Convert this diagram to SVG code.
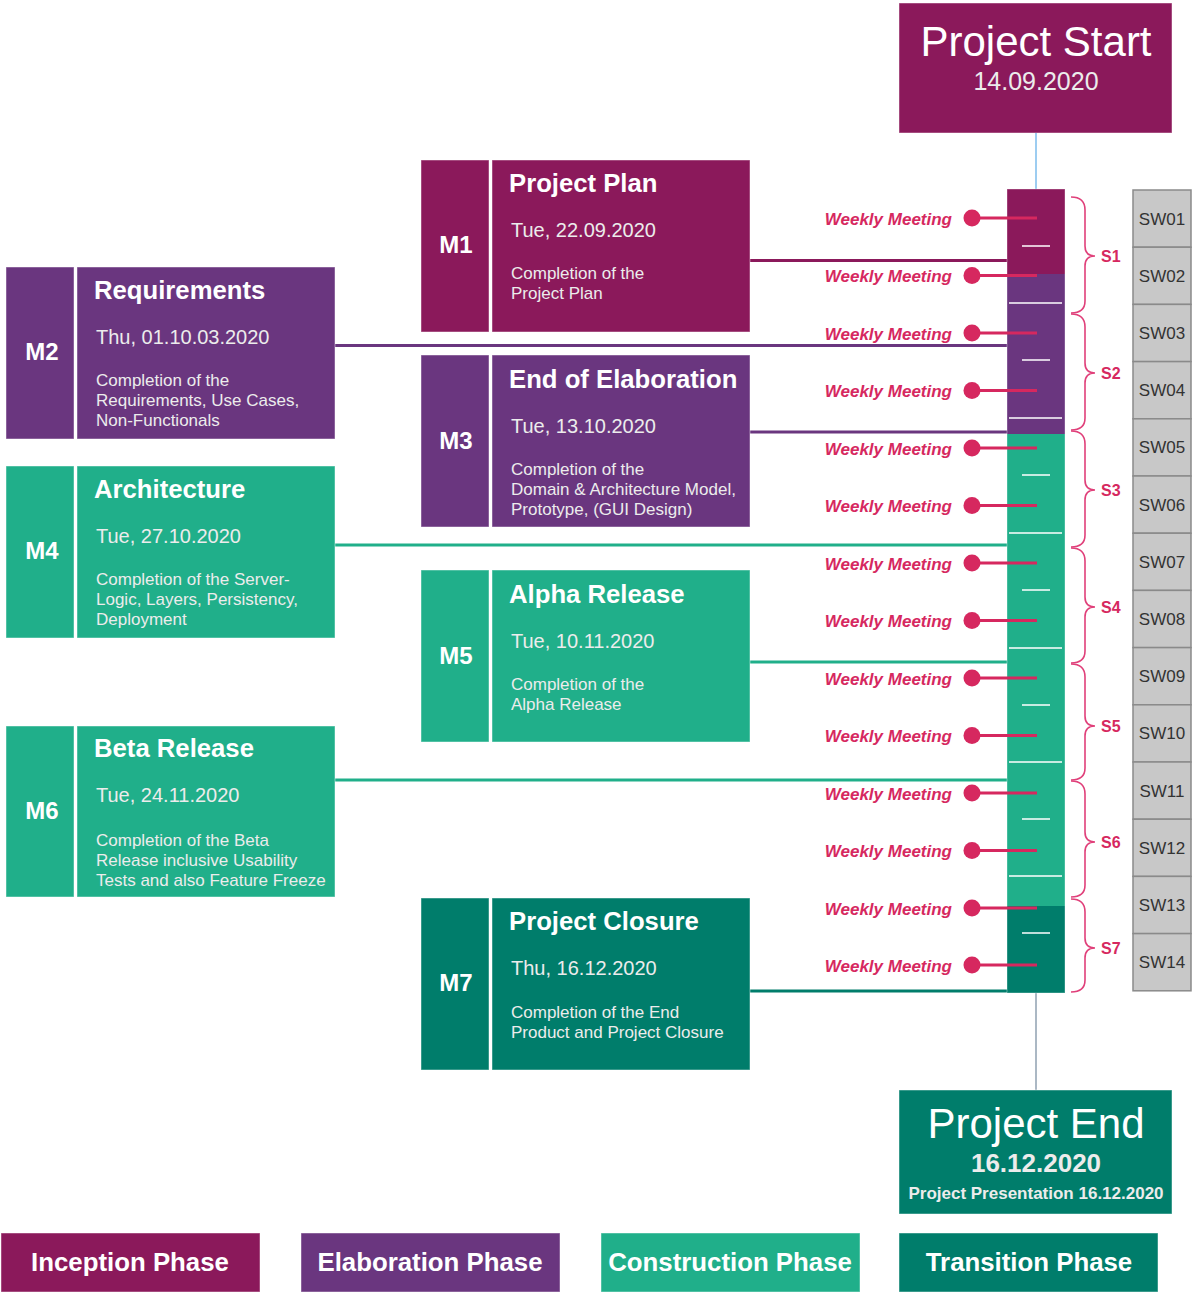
<svg xmlns="http://www.w3.org/2000/svg" width="1192" height="1293" viewBox="0 0 1192 1293">
  <style>
    text { font-family: "Liberation Sans", Arial, sans-serif; }
    .inc { fill: #8b195b; }
    .ela { fill: #6a367f; }
    .con { fill: #20af8a; }
    .tra { fill: #007d6b; }
    .cell { stroke: #ffffff; stroke-opacity: 0.45; stroke-width: 1; }
    .mlabel { font-size: 24px; font-weight: bold; fill: #ffffff; text-anchor: middle; }
    .mtitle { font-size: 25.7px; font-weight: bold; fill: #ffffff; }
    .mdate { font-size: 20px; fill: #ececec; }
    .mdesc { font-size: 17px; fill: #ececec; }
    .meet { font-size: 17px; font-weight: bold; font-style: italic; fill: #d6285f; text-anchor: end; }
    .meetline { stroke: #d6285f; stroke-width: 3; }
    .dot { fill: #d6285f; }
    .brace { fill: none; stroke: #e0407a; stroke-width: 1.6; }
    .slabel { font-size: 16px; font-weight: bold; fill: #d6285f; }
    .sw { fill: #c8c8c8; stroke: #8a8a8a; stroke-width: 1.5; }
    .swtext { font-size: 17px; fill: #333333; text-anchor: middle; }
    .tick { stroke: #ffffff; stroke-width: 1.5; }
    .legend { font-size: 25.8px; font-weight: bold; fill: #ffffff; text-anchor: middle; }
  </style>

  <!-- Project start -->
  <g id="project-start">
    <rect class="inc cell" x="899" y="3" width="273" height="130"/>
    <text x="1036" y="56" font-size="42" fill="#ffffff" text-anchor="middle">Project Start</text>
    <text x="1036" y="90" font-size="25" fill="#ececec" text-anchor="middle">14.09.2020</text>
  </g>

  <!-- Connectors: milestone links and start/end stems -->
  <g id="connectors" fill="none">
    <line x1="1036" y1="133" x2="1036" y2="189" stroke="#7dbcec" stroke-width="1.5"/>
    <line x1="1036" y1="993" x2="1036" y2="1090" stroke="#8fa0b0" stroke-width="1.5"/>
    <line x1="750" y1="260.5" x2="1007" y2="260.5" stroke="#8b195b" stroke-width="3"/>
    <line x1="335" y1="345.5" x2="1007" y2="345.5" stroke="#6a367f" stroke-width="3"/>
    <line x1="750" y1="432" x2="1007" y2="432" stroke="#6a367f" stroke-width="3"/>
    <line x1="335" y1="545" x2="1007" y2="545" stroke="#20af8a" stroke-width="3"/>
    <line x1="750" y1="662" x2="1007" y2="662" stroke="#20af8a" stroke-width="3"/>
    <line x1="335" y1="780" x2="1007" y2="780" stroke="#20af8a" stroke-width="3"/>
    <line x1="750" y1="991" x2="1007" y2="991" stroke="#007d6b" stroke-width="3"/>
  </g>

  <!-- Timeline bar with phase sections and week ticks -->
  <g id="timeline">
    <rect class="inc" x="1007" y="189" width="58" height="85"/>
    <rect class="ela" x="1007" y="274" width="58" height="160"/>
    <rect class="con" x="1007" y="434" width="58" height="472"/>
    <rect class="tra" x="1007" y="906" width="58" height="87"/>
    <rect x="1007" y="189" width="58" height="804" fill="none" stroke="#ffffff" stroke-opacity="0.35" stroke-width="1"/>
    <line class="tick" x1="1022" y1="246" x2="1050" y2="246"/>
    <line class="tick" x1="1009" y1="303" x2="1062" y2="303"/>
    <line class="tick" x1="1022" y1="360" x2="1050" y2="360"/>
    <line class="tick" x1="1009" y1="418" x2="1062" y2="418"/>
    <line class="tick" x1="1022" y1="475" x2="1050" y2="475"/>
    <line class="tick" x1="1009" y1="533" x2="1062" y2="533"/>
    <line class="tick" x1="1022" y1="590" x2="1050" y2="590"/>
    <line class="tick" x1="1009" y1="648" x2="1062" y2="648"/>
    <line class="tick" x1="1022" y1="705" x2="1050" y2="705"/>
    <line class="tick" x1="1009" y1="762" x2="1062" y2="762"/>
    <line class="tick" x1="1022" y1="819" x2="1050" y2="819"/>
    <line class="tick" x1="1009" y1="876" x2="1062" y2="876"/>
    <line class="tick" x1="1022" y1="933" x2="1050" y2="933"/>
  </g>

  <!-- Weekly meetings -->
  <g id="meetings">
    <g><line class="meetline" x1="972" y1="218" x2="1037" y2="218"/><circle class="dot" cx="972" cy="218" r="8.5"/><text class="meet" x="952" y="224.5">Weekly Meeting</text></g>
    <g><line class="meetline" x1="972" y1="275.5" x2="1037" y2="275.5"/><circle class="dot" cx="972" cy="275.5" r="8.5"/><text class="meet" x="952" y="282">Weekly Meeting</text></g>
    <g><line class="meetline" x1="972" y1="333" x2="1037" y2="333"/><circle class="dot" cx="972" cy="333" r="8.5"/><text class="meet" x="952" y="339.5">Weekly Meeting</text></g>
    <g><line class="meetline" x1="972" y1="390.5" x2="1037" y2="390.5"/><circle class="dot" cx="972" cy="390.5" r="8.5"/><text class="meet" x="952" y="397">Weekly Meeting</text></g>
    <g><line class="meetline" x1="972" y1="448" x2="1037" y2="448"/><circle class="dot" cx="972" cy="448" r="8.5"/><text class="meet" x="952" y="454.5">Weekly Meeting</text></g>
    <g><line class="meetline" x1="972" y1="505.5" x2="1037" y2="505.5"/><circle class="dot" cx="972" cy="505.5" r="8.5"/><text class="meet" x="952" y="512">Weekly Meeting</text></g>
    <g><line class="meetline" x1="972" y1="563" x2="1037" y2="563"/><circle class="dot" cx="972" cy="563" r="8.5"/><text class="meet" x="952" y="569.5">Weekly Meeting</text></g>
    <g><line class="meetline" x1="972" y1="620.5" x2="1037" y2="620.5"/><circle class="dot" cx="972" cy="620.5" r="8.5"/><text class="meet" x="952" y="627">Weekly Meeting</text></g>
    <g><line class="meetline" x1="972" y1="678" x2="1037" y2="678"/><circle class="dot" cx="972" cy="678" r="8.5"/><text class="meet" x="952" y="684.5">Weekly Meeting</text></g>
    <g><line class="meetline" x1="972" y1="735.5" x2="1037" y2="735.5"/><circle class="dot" cx="972" cy="735.5" r="8.5"/><text class="meet" x="952" y="742">Weekly Meeting</text></g>
    <g><line class="meetline" x1="972" y1="793" x2="1037" y2="793"/><circle class="dot" cx="972" cy="793" r="8.5"/><text class="meet" x="952" y="799.5">Weekly Meeting</text></g>
    <g><line class="meetline" x1="972" y1="850.5" x2="1037" y2="850.5"/><circle class="dot" cx="972" cy="850.5" r="8.5"/><text class="meet" x="952" y="857">Weekly Meeting</text></g>
    <g><line class="meetline" x1="972" y1="908" x2="1037" y2="908"/><circle class="dot" cx="972" cy="908" r="8.5"/><text class="meet" x="952" y="914.5">Weekly Meeting</text></g>
    <g><line class="meetline" x1="972" y1="965" x2="1037" y2="965"/><circle class="dot" cx="972" cy="965" r="8.5"/><text class="meet" x="952" y="971.5">Weekly Meeting</text></g>
  </g>

  <!-- Sprint braces -->
  <g id="sprints">
    <path class="brace" d="M1071,197 Q1085,197 1085,210 L1085,246 Q1085,256 1095,256 Q1085,256 1085,266 L1085,301 Q1085,313 1071,313"/>
    <text class="slabel" x="1101" y="262">S1</text>
    <path class="brace" d="M1071,314 Q1085,314 1085,327 L1085,363 Q1085,373 1095,373 Q1085,373 1085,383 L1085,418 Q1085,430 1071,430"/>
    <text class="slabel" x="1101" y="379">S2</text>
    <path class="brace" d="M1071,431 Q1085,431 1085,444 L1085,480 Q1085,490 1095,490 Q1085,490 1085,500 L1085,535 Q1085,547 1071,547"/>
    <text class="slabel" x="1101" y="496">S3</text>
    <path class="brace" d="M1071,548 Q1085,548 1085,561 L1085,597 Q1085,607 1095,607 Q1085,607 1085,617 L1085,651 Q1085,663 1071,663"/>
    <text class="slabel" x="1101" y="613">S4</text>
    <path class="brace" d="M1071,664 Q1085,664 1085,677 L1085,716 Q1085,726 1095,726 Q1085,726 1085,736 L1085,768 Q1085,780 1071,780"/>
    <text class="slabel" x="1101" y="732">S5</text>
    <path class="brace" d="M1071,781 Q1085,781 1085,794 L1085,832 Q1085,842 1095,842 Q1085,842 1085,852 L1085,885 Q1085,897 1071,897"/>
    <text class="slabel" x="1101" y="848">S6</text>
    <path class="brace" d="M1071,899 Q1085,899 1085,912 L1085,938 Q1085,948 1095,948 Q1085,948 1085,958 L1085,980 Q1085,992 1071,992"/>
    <text class="slabel" x="1101" y="954">S7</text>
  </g>

  <!-- Study weeks -->
  <g id="study-weeks">
    <rect class="sw" x="1133" y="190" width="58" height="57.2"/><text class="swtext" x="1162" y="224.5">SW01</text>
    <rect class="sw" x="1133" y="247.2" width="58" height="57.2"/><text class="swtext" x="1162" y="281.7">SW02</text>
    <rect class="sw" x="1133" y="304.4" width="58" height="57.2"/><text class="swtext" x="1162" y="338.9">SW03</text>
    <rect class="sw" x="1133" y="361.6" width="58" height="57.2"/><text class="swtext" x="1162" y="396.1">SW04</text>
    <rect class="sw" x="1133" y="418.8" width="58" height="57.2"/><text class="swtext" x="1162" y="453.3">SW05</text>
    <rect class="sw" x="1133" y="476" width="58" height="57.2"/><text class="swtext" x="1162" y="510.5">SW06</text>
    <rect class="sw" x="1133" y="533.2" width="58" height="57.2"/><text class="swtext" x="1162" y="567.7">SW07</text>
    <rect class="sw" x="1133" y="590.4" width="58" height="57.2"/><text class="swtext" x="1162" y="624.9">SW08</text>
    <rect class="sw" x="1133" y="647.6" width="58" height="57.2"/><text class="swtext" x="1162" y="682.1">SW09</text>
    <rect class="sw" x="1133" y="704.8" width="58" height="57.2"/><text class="swtext" x="1162" y="739.3">SW10</text>
    <rect class="sw" x="1133" y="762" width="58" height="57.2"/><text class="swtext" x="1162" y="796.5">SW11</text>
    <rect class="sw" x="1133" y="819.2" width="58" height="57.2"/><text class="swtext" x="1162" y="853.7">SW12</text>
    <rect class="sw" x="1133" y="876.4" width="58" height="57.2"/><text class="swtext" x="1162" y="910.9">SW13</text>
    <rect class="sw" x="1133" y="933.6" width="58" height="57.2"/><text class="swtext" x="1162" y="968.1">SW14</text>
  </g>

  <!-- Milestones -->
  <g id="m1">
    <rect class="inc cell" x="421" y="160" width="68" height="172"/>
    <rect class="inc cell" x="492" y="160" width="258" height="172"/>
    <text class="mlabel" x="456" y="253">M1</text>
    <text class="mtitle" x="509" y="192">Project Plan</text>
    <text class="mdate" x="511" y="237">Tue, 22.09.2020</text>
    <text class="mdesc" x="511" y="279">Completion of the</text>
    <text class="mdesc" x="511" y="299">Project Plan</text>
  </g>
  <g id="m2">
    <rect class="ela cell" x="6" y="267" width="68" height="172"/>
    <rect class="ela cell" x="77" y="267" width="258" height="172"/>
    <text class="mlabel" x="42" y="360">M2</text>
    <text class="mtitle" x="94" y="299">Requirements</text>
    <text class="mdate" x="96" y="344">Thu, 01.10.03.2020</text>
    <text class="mdesc" x="96" y="386">Completion of the</text>
    <text class="mdesc" x="96" y="406">Requirements, Use Cases,</text>
    <text class="mdesc" x="96" y="426">Non-Functionals</text>
  </g>
  <g id="m3">
    <rect class="ela cell" x="421" y="355" width="68" height="172"/>
    <rect class="ela cell" x="492" y="355" width="258" height="172"/>
    <text class="mlabel" x="456" y="449">M3</text>
    <text class="mtitle" x="509" y="388">End of Elaboration</text>
    <text class="mdate" x="511" y="433">Tue, 13.10.2020</text>
    <text class="mdesc" x="511" y="475">Completion of the</text>
    <text class="mdesc" x="511" y="495">Domain &amp; Architecture Model,</text>
    <text class="mdesc" x="511" y="515">Prototype, (GUI Design)</text>
  </g>
  <g id="m4">
    <rect class="con cell" x="6" y="466" width="68" height="172"/>
    <rect class="con cell" x="77" y="466" width="258" height="172"/>
    <text class="mlabel" x="42" y="559">M4</text>
    <text class="mtitle" x="94" y="498">Architecture</text>
    <text class="mdate" x="96" y="543">Tue, 27.10.2020</text>
    <text class="mdesc" x="96" y="585">Completion of the Server-</text>
    <text class="mdesc" x="96" y="605">Logic, Layers, Persistency,</text>
    <text class="mdesc" x="96" y="625">Deployment</text>
  </g>
  <g id="m5">
    <rect class="con cell" x="421" y="570" width="68" height="172"/>
    <rect class="con cell" x="492" y="570" width="258" height="172"/>
    <text class="mlabel" x="456" y="664">M5</text>
    <text class="mtitle" x="509" y="603">Alpha Release</text>
    <text class="mdate" x="511" y="648">Tue, 10.11.2020</text>
    <text class="mdesc" x="511" y="690">Completion of the</text>
    <text class="mdesc" x="511" y="710">Alpha Release</text>
  </g>
  <g id="m6">
    <rect class="con cell" x="6" y="726" width="68" height="171"/>
    <rect class="con cell" x="77" y="726" width="258" height="171"/>
    <text class="mlabel" x="42" y="819">M6</text>
    <text class="mtitle" x="94" y="757">Beta Release</text>
    <text class="mdate" x="96" y="802">Tue, 24.11.2020</text>
    <text class="mdesc" x="96" y="846">Completion of the Beta</text>
    <text class="mdesc" x="96" y="866">Release inclusive Usability</text>
    <text class="mdesc" x="96" y="886">Tests and also Feature Freeze</text>
  </g>
  <g id="m7">
    <rect class="tra cell" x="421" y="898" width="68" height="172"/>
    <rect class="tra cell" x="492" y="898" width="258" height="172"/>
    <text class="mlabel" x="456" y="991">M7</text>
    <text class="mtitle" x="509" y="930">Project Closure</text>
    <text class="mdate" x="511" y="975">Thu, 16.12.2020</text>
    <text class="mdesc" x="511" y="1018">Completion of the End</text>
    <text class="mdesc" x="511" y="1038">Product and Project Closure</text>
  </g>

  <!-- Project end -->
  <g id="project-end">
    <rect class="tra cell" x="899" y="1090" width="273" height="124"/>
    <text x="1036" y="1138" font-size="42" fill="#ffffff" text-anchor="middle">Project End</text>
    <text x="1036" y="1172" font-size="26" font-weight="bold" fill="#ececec" text-anchor="middle">16.12.2020</text>
    <text x="1036" y="1199" font-size="17" font-weight="bold" fill="#ececec" text-anchor="middle">Project Presentation 16.12.2020</text>
  </g>

  <!-- Phase legend -->
  <g id="legend-inception">
    <rect class="inc cell" x="1" y="1233" width="259" height="59"/>
    <text class="legend" x="130" y="1271">Inception Phase</text>
  </g>
  <g id="legend-elaboration">
    <rect class="ela cell" x="301" y="1233" width="259" height="59"/>
    <text class="legend" x="430" y="1271">Elaboration Phase</text>
  </g>
  <g id="legend-construction">
    <rect class="con cell" x="601" y="1233" width="259" height="59"/>
    <text class="legend" x="730" y="1271">Construction Phase</text>
  </g>
  <g id="legend-transition">
    <rect class="tra cell" x="899" y="1233" width="259" height="59"/>
    <text class="legend" x="1029" y="1271">Transition Phase</text>
  </g>
</svg>
